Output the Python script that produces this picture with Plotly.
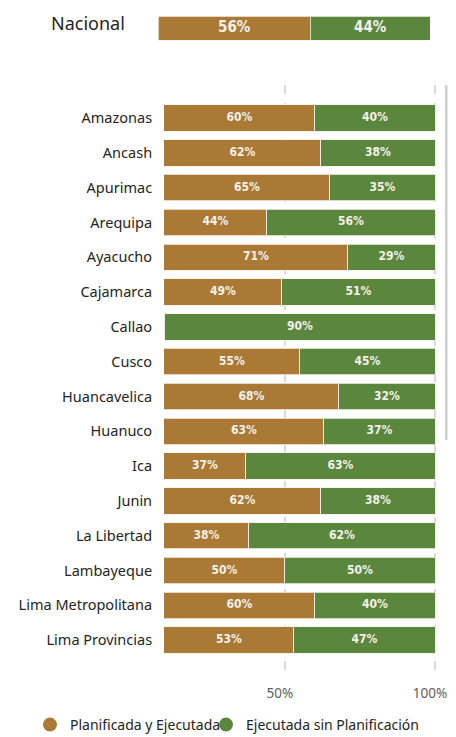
import plotly.graph_objects as go

regions = ["Amazonas", "Ancash", "Apurimac", "Arequipa", "Ayacucho", "Cajamarca",
           "Callao", "Cusco", "Huancavelica", "Huanuco", "Ica", "Junin",
           "La Libertad", "Lambayeque", "Lima Metropolitana", "Lima Provincias"]
planificada = [60, 62, 65, 44, 71, 49, 10, 55, 68, 63, 37, 62, 38, 50, 60, 53]
sin_planif = [40, 38, 35, 56, 29, 51, 90, 45, 32, 37, 63, 38, 62, 50, 40, 47]
nacional_label = "Nacional"
nacional_plan = [56]
nacional_sin = [44]
series_names = ["Planificada y Ejecutada", "Ejecutada sin Planificación"]
tick_vals = [0.5, 1.0]
tick_text = ["50%", "100%"]

BROWN = "#A97935"
GREEN = "#5A873D"
LABEL_COL = "#F4F1EA"
OFF = 8                        # page offset of the plot div
W, H = 456 - OFF, 737 - OFF
X_MIN, X_MAX = 0.097, 1.004


def px(x):
    return (x - OFF) / W


def py(y):
    return 1 - (y - OFF) / H


fig = go.Figure()

p_frac = [v / 100 for v in planificada]
s_frac = [v / 100 for v in sin_planif]
edge = dict(color="#F5F0E8", width=0.8)

fig.add_trace(go.Bar(y=regions, x=p_frac, orientation="h", marker=dict(color=BROWN, line=edge),
                     name=series_names[0], showlegend=False, hoverinfo="skip", xaxis="x", yaxis="y"))
fig.add_trace(go.Bar(y=regions, x=s_frac, orientation="h", marker=dict(color=GREEN, line=edge),
                     name=series_names[1], showlegend=False, hoverinfo="skip", xaxis="x", yaxis="y"))

# data labels centered on visible part of each segment
lx, ly, lt = [], [], []
for r, p, s in zip(regions, p_frac, s_frac):
    lo, hi = X_MIN, p
    if hi - lo > 0.05:
        lx.append((lo + hi) / 2); ly.append(r); lt.append(f"{round(p*100)}%")
    lo, hi = max(p, X_MIN), p + s
    if hi - lo > 0.05:
        lx.append((lo + hi) / 2); ly.append(r); lt.append(f"{round(s*100)}%")
fig.add_trace(go.Scatter(x=lx, y=ly, mode="text", text=lt, showlegend=False, hoverinfo="skip",
                         textfont=dict(family="DejaVu Sans Condensed", size=12, color=LABEL_COL, weight="bold"),
                         xaxis="x", yaxis="y"))

# Nacional bar
npf = [v / 100 for v in nacional_plan]
nsf = [v / 100 for v in nacional_sin]
fig.add_trace(go.Bar(y=[0], x=npf, orientation="h", marker=dict(color=BROWN, line=edge),
                     showlegend=False, hoverinfo="skip", xaxis="x2", yaxis="y2", width=0.8))
fig.add_trace(go.Bar(y=[0], x=nsf, orientation="h", marker=dict(color=GREEN, line=edge),
                     showlegend=False, hoverinfo="skip", xaxis="x2", yaxis="y2", width=0.8))
fig.add_trace(go.Scatter(x=[npf[0] / 2, npf[0] + nsf[0] / 2], y=[0, 0], mode="text",
                         text=[f"{nacional_plan[0]}%", f"{nacional_sin[0]}%"], showlegend=False, hoverinfo="skip",
                         textfont=dict(family="DejaVu Sans Condensed", size=15, color=LABEL_COL, weight="bold"),
                         xaxis="x2", yaxis="y2"))

# legend entries (circles), one legend box per series
for name, col, lg in zip(series_names, [BROWN, GREEN], ["legend", "legend2"]):
    fig.add_trace(go.Scatter(x=[None], y=[None], mode="markers", name=name, legend=lg,
                             marker=dict(symbol="circle", size=14, color=col), xaxis="x", yaxis="y"))

leg_common = dict(orientation="h", xanchor="left", y=py(725), yanchor="middle",
                  font=dict(size=14, color="#252423"), itemwidth=30, bgcolor="rgba(0,0,0,0)")

fig.update_layout(
    width=W, height=H, margin=dict(l=0, r=0, t=0, b=0, autoexpand=False),
    paper_bgcolor="white", plot_bgcolor="white",
    barmode="stack", bargap=0.24,
    font=dict(family="Noto Sans", color="#252423"),
    xaxis=dict(domain=[px(164), px(436.2)], range=[X_MIN, X_MAX], tickvals=tick_vals, ticktext=tick_text,
               showgrid=True, gridcolor="#DADADA", griddash="dash", gridwidth=1.5, automargin=False,
               zeroline=False, showline=False, ticks="outside", ticklen=6, tickcolor="rgba(0,0,0,0)",
               ticklabeloverflow="allow", ticklabelshift=-5,
               tickfont=dict(size=13.5, color="#605E5C", family="Noto Sans")),
    yaxis=dict(domain=[py(675), py(85)], range=[16.0, -0.948], type="category", automargin=False,
               showgrid=False, zeroline=False, ticks="outside", ticklen=8, tickcolor="rgba(0,0,0,0)",
               tickfont=dict(size=14.5, color="#252423", family="Noto Sans")),
    xaxis2=dict(domain=[px(158), px(430)], range=[0, 1], visible=False, anchor="y2"),
    yaxis2=dict(domain=[py(43), py(13)], range=[-0.5, 0.5], visible=False, anchor="x2"),
    legend=dict(x=px(30), **leg_common),
    legend2=dict(x=px(206), **leg_common),
    annotations=[dict(text=nacional_label, x=px(127), y=py(23), xref="paper", yref="paper",
                      xanchor="right", yanchor="middle", showarrow=False,
                      font=dict(size=18, color="#252423", family="Noto Sans"))],
    shapes=[dict(type="rect", xref="paper", yref="paper", x0=px(445), x1=px(447.5), y0=py(440), y1=py(85),
                 fillcolor="#CFCFCF", line=dict(width=0))],
)

fig.write_html("out.html")
